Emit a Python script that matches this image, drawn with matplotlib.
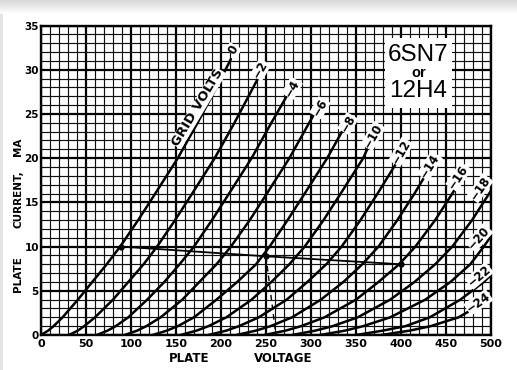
import numpy as np
import matplotlib
matplotlib.use("Agg")
import matplotlib.pyplot as plt
from matplotlib.patches import Rectangle

# plate characteristic curves: plate volts (V) vs plate current (mA)
v_g0 = [0, 8, 14, 24, 41, 57, 73, 88, 108, 127, 152, 174, 195, 211]
i_g0 = [0, 0.5, 1, 2, 4, 6, 8, 10, 13, 16, 20, 24, 28, 31.2]
v_g2 = [31, 41, 48, 60, 80, 97, 114, 129, 149, 168, 193, 215, 241]
i_g2 = [0, 0.5, 1, 2, 4, 6, 8, 10, 13, 16, 20, 24, 29]
v_g4 = [62, 74, 83, 97, 118, 137, 154, 170, 190, 209, 234, 256, 273]
i_g4 = [0, 0.5, 1, 2, 4, 6, 8, 10, 13, 16, 20, 24, 27]
v_g6 = [93, 107, 117, 133, 157, 176, 195, 211, 232, 251, 276, 298, 303]
i_g6 = [0, 0.5, 1, 2, 4, 6, 8, 10, 13, 16, 20, 24, 24.9]
v_g8 = [124, 140, 152, 170, 195, 218, 239, 254, 274, 293, 318, 335]
i_g8 = [0, 0.5, 1, 2, 4, 6, 8, 10, 13, 16, 20, 23.1]
v_g10 = [155, 173, 186, 206, 234, 256, 276, 293, 314, 333, 358, 365]
i_g10 = [0, 0.5, 1, 2, 4, 6, 8, 10, 13, 16, 20, 21.6]
v_g12 = [186, 206, 220, 242, 273, 296, 317, 334, 355, 374, 397]
i_g12 = [0, 0.5, 1, 2, 4, 6, 8, 10, 13, 16, 19.8]
v_g14 = [217, 239, 255, 279, 311, 336, 357, 375, 396, 415, 428]
i_g14 = [0, 0.5, 1, 2, 4, 6, 8, 10, 13, 16, 18.2]
v_g16 = [248, 272, 289, 315, 350, 375, 398, 416, 438, 457, 460]
i_g16 = [0, 0.5, 1, 2, 4, 6, 8, 10, 13, 16, 16.5]
v_g18 = [279, 305, 324, 352, 388, 415, 438, 457, 479, 498, 500]
i_g18 = [0, 0.5, 1, 2, 4, 6, 8, 10, 13, 16, 16.3]
v_g20 = [310, 338, 358, 388, 427, 455, 477, 492, 500]
i_g20 = [0, 0.5, 1, 2, 4, 6, 8, 10, 11.2]
v_g22 = [350, 380, 405, 432, 466, 492, 500]
i_g22 = [0, 0.5, 1, 2, 4, 6, 6.8]
v_g24 = [378, 410, 433, 464, 498, 500]
i_g24 = [0, 0.5, 1, 2, 4, 4.15]

# curve labels (grid volts) and where they sit
label_text = ["0", "−2", "−4", "−6", "−8", "−10", "−12", "−14", "−16",
              "−18", "−20", "−22", "−24"]
label_v = [214, 244, 279, 310, 341, 369, 400, 432, 464, 488, 487, 487, 486]
label_i = [32.3, 30.0, 27.9, 25.7, 23.9, 22.5, 20.7, 19.1, 17.9, 16.6, 11.0, 6.7, 3.7]
label_rot = [60, 60, 60, 60, 60, 60, 60, 58, 56, 55, 48, 40, 35]

# load line and operating point
load_v = [89, 250, 400]
load_i = [10, 8.9, 8.0]
bias_v = [250, 261]
bias_i = [8.9, 0]

curves = [(v_g0, i_g0), (v_g2, i_g2), (v_g4, i_g4), (v_g6, i_g6), (v_g8, i_g8),
          (v_g10, i_g10), (v_g12, i_g12), (v_g14, i_g14), (v_g16, i_g16),
          (v_g18, i_g18), (v_g20, i_g20), (v_g22, i_g22), (v_g24, i_g24)]

W, H = 517, 370
fig = plt.figure(figsize=(W / 100, H / 100), dpi=100)
fig.patch.set_facecolor("white")

# soft grey band across the top of the scan
band = fig.add_axes([0, 1 - 14 / H, 1, 14 / H])
grad = np.linspace(0.84, 1.0, 30).reshape(-1, 1)
band.imshow(grad, cmap="gray", vmin=0, vmax=1, aspect="auto", extent=[0, 1, 0, 1])
band.axis("off")
fig.patches.append(Rectangle((0, 0), 3 / W, 1 - 14 / H, transform=fig.transFigure,
                             facecolor="#e4e4e4", edgecolor="none"))

L, R, B, T = 41, 491, 335, 25.5
ax = fig.add_axes([L / W, 1 - B / H, (R - L) / W, (B - T) / H])
ax.set_xlim(0, 500)
ax.set_ylim(0, 35)
ax.set_xticks(np.arange(0, 501, 50))
ax.set_xticks(np.arange(0, 501, 10), minor=True)
ax.set_yticks(np.arange(0, 36, 5))
ax.set_yticks(np.arange(0, 36, 1), minor=True)
ax.set_axisbelow(True)
ax.grid(which="minor", color="#111111", lw=0.85)
ax.grid(which="major", color="black", lw=1.6)
ax.tick_params(which="both", length=0)
ax.tick_params(axis="x", pad=3, labelsize=8)
ax.tick_params(axis="y", pad=1.5, labelsize=7.5)
for lab in ax.get_xticklabels() + ax.get_yticklabels():
    lab.set_fontweight("bold")
for sp in ax.spines.values():
    sp.set_linewidth(1.7)

for v, i in curves:
    ax.plot(v, i, color="black", lw=1.8, solid_capstyle="round", zorder=3)

for t, v, i, r in zip(label_text, label_v, label_i, label_rot):
    ax.text(v, i, t, rotation=r, rotation_mode="anchor", ha="center", va="center",
            fontsize=8.5, fontweight="bold", zorder=5,
            bbox=dict(facecolor="white", edgecolor="none", pad=0.3))

ax.text(180.5, 25.3, "GRID VOLTS", rotation=59, rotation_mode="anchor",
        ha="center", va="bottom", fontsize=9.5, fontweight="bold", zorder=5,
        bbox=dict(facecolor="white", edgecolor="none", pad=0.2))

ax.plot(load_v, load_i, color="black", lw=1.3, zorder=4)
ax.plot(load_v, load_i, "o", color="black", ms=3.5, zorder=4)
ax.plot(bias_v, bias_i, color="black", lw=1.0, ls=(0, (4, 3)), zorder=4)

# tube type box
ax.add_patch(Rectangle(((385 - L) / (R - L), (B - 108) / (B - T)), 67 / (R - L), 70 / (B - T),
                       transform=ax.transAxes, facecolor="white", edgecolor="none", zorder=4))
fig.text(418.5 / W, 1 - 55 / H, "6SN7", ha="center", va="center", fontsize=17.5,
         family="Liberation Sans", zorder=6)
fig.text(418.5 / W, 1 - 73 / H, "or", ha="center", va="center", fontsize=10.5,
         fontweight="bold", family="Liberation Sans", zorder=6)
fig.text(418.5 / W, 1 - 91 / H, "12H4", ha="center", va="center", fontsize=17.5,
         family="Liberation Sans", zorder=6)

# axis titles, split the way the scan spaces them
fig.text(189 / W, 1 - 358 / H, "PLATE", ha="center", va="center",
         fontsize=8.5, fontweight="bold")
fig.text(283 / W, 1 - 358 / H, "VOLTAGE", ha="center", va="center",
         fontsize=8.5, fontweight="bold")
fig.text(18 / W, 1 - 274 / H, "PLATE", ha="center", va="center", rotation=90,
         fontsize=7.5, fontweight="bold")
fig.text(18 / W, 1 - 199 / H, "CURRENT,", ha="center", va="center", rotation=90,
         fontsize=7.5, fontweight="bold")
fig.text(18 / W, 1 - 147 / H, "MA", ha="center", va="center", rotation=90,
         fontsize=7.5, fontweight="bold")

fig.savefig("out.png", dpi=100)
